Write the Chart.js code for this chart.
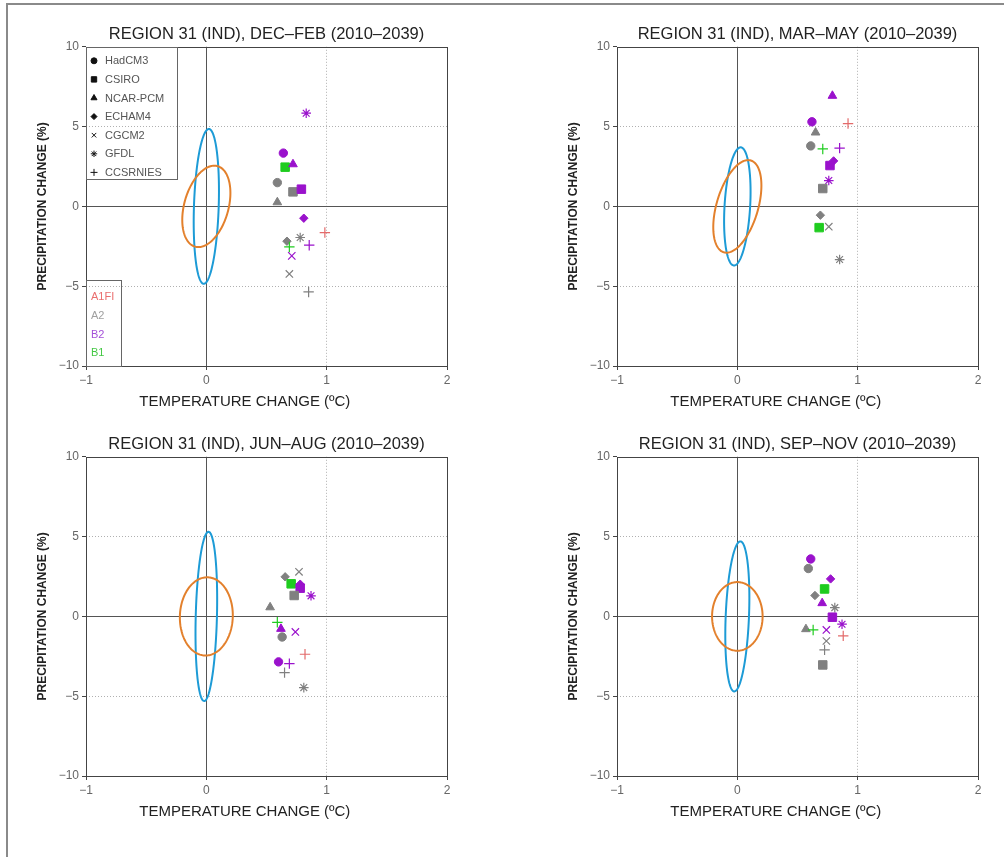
<!DOCTYPE html>
<html>
<head>
<meta charset="utf-8">
<script src="https://cdn.jsdelivr.net/npm/chart.js@4.4.1/dist/chart.umd.min.js"></script>
<style>
  html, body { margin: 0; padding: 0; background: #fff; }
  body { width: 1004px; height: 857px; position: relative; overflow: hidden; }
  .frame { position: absolute; left: 6px; top: 3px; width: 1010px; height: 870px; border-top: 2px solid #8a8a8a; border-left: 2px solid #8a8a8a; }
  .panel { position: absolute; width: 470px; height: 410px; }
</style>
</head>
<body>
<div class="frame"></div>
<div class="panel" style="left:0;top:0"><canvas id="djf"></canvas></div>
<div class="panel" style="left:531px;top:0"><canvas id="mam"></canvas></div>
<div class="panel" style="left:0;top:410px"><canvas id="jja"></canvas></div>
<div class="panel" style="left:531px;top:410px"><canvas id="son"></canvas></div>
<script>
// ---- data ----
const xTicks = [-1, 0, 1, 2];
const yTicks = [-10, -5, 0, 5, 10];
const models = ['HadCM3', 'CSIRO', 'NCAR-PCM', 'ECHAM4', 'CGCM2', 'GFDL', 'CCSRNIES'];
const scenarios = ['A1FI', 'A2', 'B2', 'B1'];

// DEC-FEB
const djfModel = ['GFDL','HadCM3','CSIRO','NCAR-PCM','HadCM3','CSIRO','CSIRO','NCAR-PCM','ECHAM4','CCSRNIES','GFDL','ECHAM4','CCSRNIES','CCSRNIES','CGCM2','CGCM2','CCSRNIES'];
const djfScen  = ['B2','B2','B1','B2','A2','A2','B2','A2','B2','A1FI','A2','A2','B2','B1','B2','A2','A2'];
const djfTemp  = [0.83, 0.64, 0.655, 0.72, 0.59, 0.72, 0.79, 0.59, 0.81, 0.985, 0.78, 0.67, 0.855, 0.69, 0.71, 0.69, 0.85];
const djfPrec  = [5.84, 3.34, 2.46, 2.64, 1.49, 0.91, 1.08, 0.26, -0.74, -1.64, -1.95, -2.18, -2.43, -2.54, -3.1, -4.23, -5.36];

// MAR-MAY
const mamModel = ['NCAR-PCM','HadCM3','CCSRNIES','NCAR-PCM','HadCM3','CCSRNIES','CCSRNIES','ECHAM4','CSIRO','GFDL','CSIRO','ECHAM4','CSIRO','CGCM2','GFDL'];
const mamScen  = ['B2','B2','A1FI','A2','A2','B1','B2','B2','B2','B2','A2','A2','B1','A2','A2'];
const mamTemp  = [0.79, 0.62, 0.92, 0.65, 0.61, 0.71, 0.85, 0.80, 0.77, 0.76, 0.71, 0.69, 0.68, 0.76, 0.85];
const mamPrec  = [6.93, 5.3, 5.19, 4.63, 3.79, 3.6, 3.65, 2.85, 2.56, 1.62, 1.12, -0.55, -1.33, -1.27, -3.33];

// JUN-AUG
const jjaModel = ['CGCM2','ECHAM4','CSIRO','ECHAM4','CSIRO','CSIRO','GFDL','NCAR-PCM','CCSRNIES','NCAR-PCM','CGCM2','HadCM3','CCSRNIES','HadCM3','CCSRNIES','CCSRNIES','GFDL'];
const jjaScen  = ['A2','A2','B1','B2','B2','A2','B2','A2','B1','B2','B2','A2','A1FI','B2','B2','A2','A2'];
const jjaTemp  = [0.77, 0.655, 0.705, 0.78, 0.78, 0.73, 0.87, 0.53, 0.59, 0.62, 0.74, 0.63, 0.82, 0.60, 0.69, 0.65, 0.81];
const jjaPrec  = [2.79, 2.48, 2.04, 2.02, 1.77, 1.31, 1.29, 0.57, -0.37, -0.78, -0.97, -1.29, -2.37, -2.85, -2.96, -3.52, -4.46];

// SEP-NOV
const sonModel = ['HadCM3','HadCM3','ECHAM4','CSIRO','ECHAM4','NCAR-PCM','GFDL','CSIRO','GFDL','NCAR-PCM','CCSRNIES','CGCM2','CCSRNIES','CGCM2','CCSRNIES','CSIRO'];
const sonScen  = ['B2','A2','B2','B1','A2','B2','A2','B2','B2','A2','B1','B2','A1FI','A2','A2','A2'];
const sonTemp  = [0.61, 0.59, 0.775, 0.725, 0.645, 0.705, 0.81, 0.79, 0.87, 0.57, 0.63, 0.74, 0.88, 0.74, 0.725, 0.71];
const sonPrec  = [3.6, 3.0, 2.35, 1.72, 1.31, 0.83, 0.55, -0.05, -0.49, -0.8, -0.85, -0.85, -1.22, -1.54, -2.1, -3.04];

// natural variability ellipses, order DJF, MAM, JJA, SON (sd temp, sd precip, correlation)
const blueSdT   = [0.105, 0.11, 0.09, 0.10];
const blueSdP   = [4.85, 3.7, 5.3, 4.7];
const blueRho   = [0.2, 0.25, 0.2, 0.25];
const orangeSdT = [0.2, 0.2, 0.22, 0.21];
const orangeSdP = [2.55, 2.9, 2.45, 2.15];
const orangeRho = [0.33, 0.45, 0.03, 0.0];

// ---- styling ----
const FONT = '"Liberation Sans", Arial, sans-serif';
const scenColor = { A1FI: '#e36a6a', A2: '#808080', B2: '#9a12cc', B1: '#1fcc1f' };
const scenLabelColor = { A1FI: '#ea6f6f', A2: '#a0a0a0', B2: '#a450d8', B1: '#44c844' };
const modelStyle = {
  'HadCM3':   { style: 'circle',   r: 4.2 },
  'CSIRO':    { style: 'rect',     r: 6 },
  'NCAR-PCM': { style: 'triangle', r: 5 },
  'ECHAM4':   { style: 'rectRot',  r: 4.2 },
  'CGCM2':    { style: 'crossRot', r: 5.2 },
  'GFDL':     { style: 'star',     r: 4.8 },
  'CCSRNIES': { style: 'cross',    r: 5.2 }
};
const legendStyle = {
  'HadCM3': 3, 'CSIRO': 3.8, 'NCAR-PCM': 3.5, 'ECHAM4': 3, 'CGCM2': 3.2, 'GFDL': 3.2, 'CCSRNIES': 3.5
};

function drawMarker(ctx, style, r, x, y) {
  if (Chart.helpers && Chart.helpers.drawPoint) {
    Chart.helpers.drawPoint(ctx, { pointStyle: style, radius: r, rotation: 0, borderWidth: 1 }, x, y);
  } else {
    ctx.beginPath(); ctx.arc(x, y, r, 0, Math.PI * 2); ctx.fill();
  }
}

const panelDecor = {
  id: 'panelDecor',
  beforeDatasetsDraw(chart, args, o) {
    const { ctx, chartArea: a, scales: { x, y } } = chart;
    ctx.save();
    // zero lines
    ctx.strokeStyle = '#555';
    ctx.lineWidth = 1;
    const x0 = Math.round(x.getPixelForValue(0)) + 0.5;
    const y0 = Math.round(y.getPixelForValue(0)) + 0.5;
    ctx.beginPath();
    ctx.moveTo(x0, a.top); ctx.lineTo(x0, a.bottom);
    ctx.moveTo(a.left, y0); ctx.lineTo(a.right, y0);
    ctx.stroke();
    // ellipses
    o.ellipses.forEach(e => {
      const phi = Math.acos(e.rho);
      ctx.beginPath();
      for (let i = 0; i <= 180; i++) {
        const t = i / 180 * 2 * Math.PI;
        const px = x.getPixelForValue(e.sdT * Math.cos(t));
        const py = y.getPixelForValue(e.sdP * Math.cos(t - phi));
        if (i) ctx.lineTo(px, py); else ctx.moveTo(px, py);
      }
      ctx.closePath();
      ctx.strokeStyle = e.color;
      ctx.lineWidth = 2;
      ctx.stroke();
    });
    ctx.restore();
  },
  afterDatasetsDraw(chart, args, o) {
    const { ctx, chartArea: a } = chart;
    ctx.save();
    ctx.strokeStyle = '#444';
    ctx.lineWidth = 1;
    const L = Math.round(a.left) + 0.5, T = Math.round(a.top) + 0.5;
    const R = Math.round(a.right) + 0.5, B = Math.round(a.bottom) + 0.5;
    ctx.strokeRect(L, T, R - L, B - T);

    // x axis title, sits a little left of centre in the original
    ctx.font = '15px ' + FONT;
    ctx.fillStyle = '#222';
    ctx.textAlign = 'center';
    ctx.textBaseline = 'middle';
    ctx.fillText(o.xTitle, a.left + 0.44 * (a.right - a.left), a.bottom + 36);
    ctx.textAlign = 'left';

    if (o.legend) {
      // model legend box
      ctx.strokeStyle = '#666';
      ctx.strokeRect(L, T, 91, 132);
      ctx.font = '11px ' + FONT;
      models.forEach((m, i) => {
        const yy = a.top + 14 + i * 18.6;
        ctx.fillStyle = '#111';
        ctx.strokeStyle = '#111';
        drawMarker(ctx, modelStyle[m].style, legendStyle[m], a.left + 8, yy);
        ctx.fillStyle = '#555';
        ctx.fillText(m, a.left + 19, yy + 0.5);
      });
      // scenario legend box
      ctx.strokeStyle = '#666';
      ctx.strokeRect(L, B - 86, 35, 86);
      scenarios.forEach((s, i) => {
        ctx.fillStyle = scenLabelColor[s];
        ctx.fillText(s, a.left + 5, a.bottom - 69 + i * 18.8);
      });
    }
    ctx.restore();
  }
};

function makePanel(id, season, idx, mod, scen, temp, prec, showLegend) {
  const pts = temp.map((t, i) => ({ x: t, y: prec[i] }));
  const colors = scen.map(s => scenColor[s]);
  const lineStyle = m => ['crossRot', 'star', 'cross'].includes(modelStyle[m].style);

  new Chart(document.getElementById(id), {
    type: 'scatter',
    data: {
      datasets: [{
        data: pts,
        pointStyle: mod.map(m => modelStyle[m].style),
        pointRadius: mod.map(m => modelStyle[m].r),
        pointHoverRadius: mod.map(m => modelStyle[m].r),
        backgroundColor: colors,
        borderColor: colors,
        pointBorderWidth: mod.map(m => lineStyle(m) ? 1.2 : 1)
      }]
    },
    options: {
      responsive: true,
      maintainAspectRatio: false,
      animation: false,
      events: [],
      layout: { padding: { top: 1, right: 23, left: 0, bottom: 0 } },
      plugins: {
        legend: { display: false },
        tooltip: { enabled: false },
        title: {
          display: true,
          fullSize: false,
          text: 'REGION 31 (IND), ' + season + ' (2010\u20132039)',
          color: '#222',
          font: { family: FONT, size: 16.5, weight: 'normal' },
          padding: { top: 24, bottom: 2 }
        },
        panelDecor: {
          legend: showLegend,
          xTitle: 'TEMPERATURE CHANGE (\u00baC)',
          ellipses: [
            { sdT: blueSdT[idx], sdP: blueSdP[idx], rho: blueRho[idx], color: '#1d9bd6' },
            { sdT: orangeSdT[idx], sdP: orangeSdP[idx], rho: orangeRho[idx], color: '#e3802c' }
          ]
        }
      },
      scales: {
        x: {
          type: 'linear',
          min: xTicks[0],
          max: xTicks[xTicks.length - 1],
          afterFit: s => { s.height = 44; },
          afterBuildTicks: s => { s.ticks = xTicks.map(v => ({ value: v })); },
          ticks: { color: '#666', font: { family: FONT, size: 12 }, padding: 3,
                   callback: v => String(v).replace('-', '\u2212') },
          grid: {
            color: c => (c.tick && c.tick.value === 1) ? '#b0b0b0' : 'rgba(0,0,0,0)',
            tickColor: '#444', tickLength: 4, lineWidth: 1
          },
          border: { display: false, dash: [1, 2] },
          title: { display: false }
        },
        y: {
          type: 'linear',
          min: yTicks[0],
          max: yTicks[yTicks.length - 1],
          afterFit: s => { s.width = 86; },
          afterBuildTicks: s => { s.ticks = yTicks.map(v => ({ value: v })); },
          ticks: { color: '#666', font: { family: FONT, size: 12 }, padding: 3,
                   callback: v => String(v).replace('-', '\u2212') },
          grid: {
            color: c => (c.tick && Math.abs(c.tick.value) === 5) ? '#b0b0b0' : 'rgba(0,0,0,0)',
            tickColor: '#444', tickLength: 4, lineWidth: 1
          },
          border: { display: false, dash: [1, 2] },
          title: {
            display: true, text: 'PRECIPITATION CHANGE (%)', color: '#222',
            font: { family: FONT, size: 12, weight: 'bold' }, padding: { top: 35, bottom: 0 }
          }
        }
      }
    },
    plugins: [panelDecor]
  });
}

makePanel('djf', 'DEC\u2013FEB', 0, djfModel, djfScen, djfTemp, djfPrec, true);
makePanel('mam', 'MAR\u2013MAY', 1, mamModel, mamScen, mamTemp, mamPrec, false);
makePanel('jja', 'JUN\u2013AUG', 2, jjaModel, jjaScen, jjaTemp, jjaPrec, false);
makePanel('son', 'SEP\u2013NOV', 3, sonModel, sonScen, sonTemp, sonPrec, false);
</script>
</body>
</html>
